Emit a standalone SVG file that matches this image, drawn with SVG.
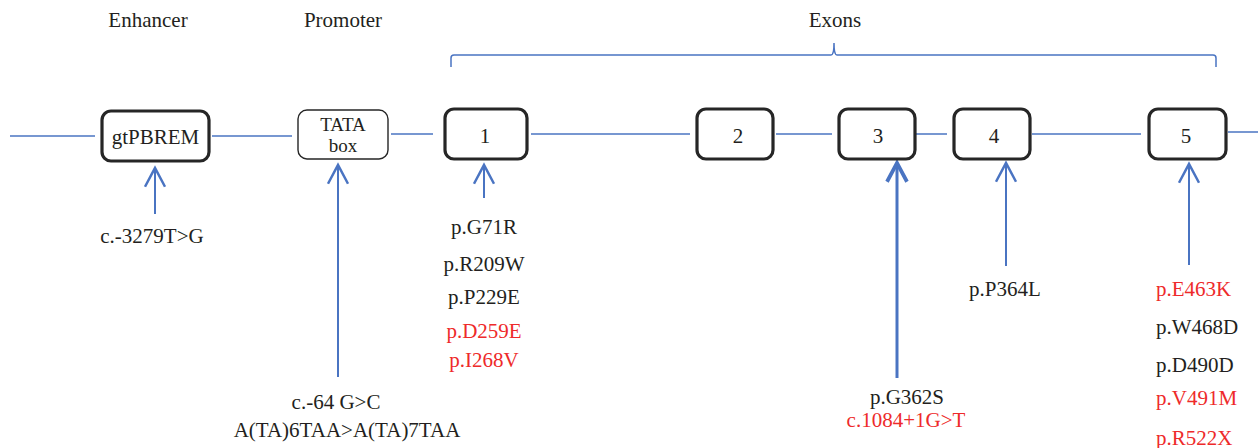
<svg xmlns="http://www.w3.org/2000/svg" width="1258" height="448" viewBox="0 0 1258 448">
<style>
text{font-family:"Liberation Serif","Times New Roman",serif;font-size:21px;fill:#231f20}
.red{fill:#ee2a2a}
.mid{text-anchor:middle}
.sm{font-size:19px}
.ln{stroke:#4a74c2;stroke-width:1.5;fill:none}
.ar{stroke:#4a74c2;stroke-width:2;fill:none}
.arb{stroke:#4a74c2;stroke-width:3;fill:none}
.ex{fill:#fff;stroke:#262626;stroke-width:3.2}
.thin{fill:#fff;stroke:#262626;stroke-width:1.4}
</style>
<defs>
<marker id="ah" markerUnits="userSpaceOnUse" orient="auto" refX="0" refY="0" markerWidth="30" markerHeight="30" viewBox="-20 -12 24 24" overflow="visible">
<path d="M-15,-8 L0,0 L-15,8" fill="none" stroke="#4a74c2" stroke-width="2"/>
</marker>
<marker id="ahb" markerUnits="userSpaceOnUse" orient="auto" refX="0" refY="0" markerWidth="30" markerHeight="30" viewBox="-20 -12 24 24" overflow="visible">
<path d="M-15,-8 L0,0 L-15,8" fill="none" stroke="#4a74c2" stroke-width="3"/>
</marker>
</defs>

<g id="titles">
<text class="mid" x="148" y="27">Enhancer</text>
<text class="mid" x="343" y="27">Promoter</text>
<text class="mid" x="835" y="27">Exons</text>
</g>

<g id="exon-brace">
<path class="ln" d="M451,67 L451,58 Q451,55 454,55 L831,55 Q834,55 834,43 Q834,55 837,55 L1213,55 Q1216,55 1216,58 L1216,67"/>
</g>

<g id="connectors">
<line class="ln" x1="10" y1="136" x2="95" y2="136"/>
<line class="ln" x1="212" y1="136" x2="292" y2="136"/>
<line class="ln" x1="391" y1="134" x2="433" y2="134"/>
<line class="ln" x1="531" y1="134" x2="690" y2="134"/>
<line class="ln" x1="776" y1="134" x2="832" y2="134"/>
<line class="ln" x1="916" y1="134" x2="947" y2="134"/>
<line class="ln" x1="1032" y1="134" x2="1141" y2="134"/>
<line class="ln" x1="1228" y1="132" x2="1258" y2="132"/>
<line class="ar" x1="155" y1="214" x2="155" y2="168" marker-end="url(#ah)"/>
<line class="ar" x1="338" y1="377" x2="338" y2="165" marker-end="url(#ah)"/>
<line class="ar" x1="484" y1="198" x2="484" y2="165" marker-end="url(#ah)"/>
<line class="arb" x1="897" y1="378" x2="897" y2="163" marker-end="url(#ahb)"/>
<line class="ar" x1="1006" y1="266" x2="1006" y2="163" marker-end="url(#ah)"/>
<line class="ar" x1="1189" y1="265" x2="1189" y2="164" marker-end="url(#ah)"/>
</g>

<g id="gtPBREM">
<rect class="ex" x="102" y="111" width="107" height="50" rx="9"/>
<text class="mid" x="155.5" y="144">gtPBREM</text>
</g>
<g id="tata">
<rect class="thin" x="298" y="110" width="90" height="49" rx="9"/>
<text class="mid sm" x="343" y="131">TATA</text>
<text class="mid sm" x="343" y="152">box</text>
</g>
<g id="exon1">
<rect class="ex" x="445" y="109" width="82" height="50" rx="9"/>
<text class="mid" x="485" y="143">1</text>
</g>
<g id="exon2">
<rect class="ex" x="697" y="109" width="76" height="50" rx="9"/>
<text class="mid" x="738" y="143">2</text>
</g>
<g id="exon3">
<rect class="ex" x="839" y="109" width="76" height="50" rx="9"/>
<text class="mid" x="878" y="143">3</text>
</g>
<g id="exon4">
<rect class="ex" x="954" y="109" width="76" height="50" rx="9"/>
<text class="mid" x="994" y="143">4</text>
</g>
<g id="exon5">
<rect class="ex" x="1149" y="109" width="77" height="50" rx="9"/>
<text class="mid" x="1186" y="143">5</text>
</g>

<g id="labels-enhancer">
<text class="mid" x="152" y="243">c.-3279T&gt;G</text>
</g>
<g id="labels-promoter">
<text class="mid" x="336" y="409">c.-64 G&gt;C</text>
<text class="mid" x="347" y="437">A(TA)6TAA&gt;A(TA)7TAA</text>
</g>
<g id="labels-exon1">
<text class="mid" x="484" y="234">p.G71R</text>
<text class="mid" x="484" y="271">p.R209W</text>
<text class="mid" x="484" y="304">p.P229E</text>
<text class="mid red" x="484" y="338">p.D259E</text>
<text class="mid red" x="484" y="367">p.I268V</text>
</g>
<g id="labels-exon3">
<text class="mid" x="907" y="404">p.G362S</text>
<text class="mid red" x="906" y="427">c.1084+1G&gt;T</text>
</g>
<g id="labels-exon4">
<text class="mid" x="1005" y="296">p.P364L</text>
</g>
<g id="labels-exon5">
<text class="red" x="1156" y="296">p.E463K</text>
<text x="1156" y="334">p.W468D</text>
<text x="1156" y="372">p.D490D</text>
<text class="red" x="1156" y="405">p.V491M</text>
<text class="red" x="1156" y="445">p.R522X</text>
</g>
</svg>
